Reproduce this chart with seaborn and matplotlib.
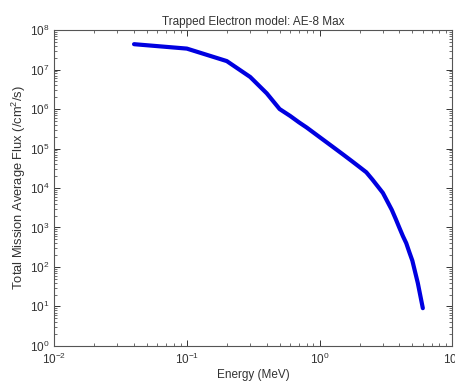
import numpy as np
import pandas as pd
import seaborn as sns
import matplotlib
matplotlib.use('Agg')
import matplotlib.pyplot as plt
from matplotlib.ticker import LogLocator, NullFormatter

# energy grid (MeV) and flux
energy = [0.04, 0.1, 0.2, 0.3, 0.4, 0.5, 0.6, 0.7, 0.8, 1.0, 1.25, 1.5, 1.75,
          2.0, 2.25, 2.5, 2.75, 3.0, 3.25, 3.5, 3.75, 4.0, 4.25, 4.5, 4.75,
          5.0, 5.5, 6.0]
flux = [4.4e7, 3.4e7, 1.64e7, 6.5e6, 2.5e6, 1.0e6, 6.7e5, 4.6e5, 3.4e5, 1.95e5,
        1.12e5, 7.1e4, 4.8e4, 3.4e4, 2.5e4, 1.64e4, 1.09e4, 7.5e3, 4.5e3, 2.8e3,
        1.64e3, 9.7e2, 6.0e2, 4.0e2, 2.35e2, 1.45e2, 3.9e1, 9.0]

df = pd.DataFrame({'Energy': energy, 'Flux': flux})

sns.set_style('ticks')
plt.rcParams['font.family'] = ['Liberation Sans', 'DejaVu Sans']
plt.rcParams['font.size'] = 8.5
plt.rcParams['mathtext.default'] = 'regular'
plt.rcParams['xtick.direction'] = 'in'
plt.rcParams['ytick.direction'] = 'in'

fig = plt.figure(figsize=(4.55, 3.86), dpi=100)
ax = fig.add_axes([0.119, 0.104, 0.875, 0.818])

sns.lineplot(data=df, x='Energy', y='Flux', color='#0000e0', linewidth=3.0, ax=ax)

ax.set_xscale('log')
ax.set_yscale('log')
ax.set_xlim(1e-2, 1e1)
ax.set_ylim(1e0, 1e8)

ax.xaxis.set_major_locator(LogLocator(base=10, numticks=10))
ax.yaxis.set_major_locator(LogLocator(base=10, numticks=10))
ax.xaxis.set_minor_locator(LogLocator(base=10, subs=np.arange(2, 10), numticks=20))
ax.yaxis.set_minor_locator(LogLocator(base=10, subs=np.arange(2, 10), numticks=20))
ax.xaxis.set_minor_formatter(NullFormatter())
ax.yaxis.set_minor_formatter(NullFormatter())

ax.tick_params(which='both', top=True, right=True, colors='#333333', labelcolor='#333333')
ax.tick_params(which='major', length=4, width=0.7, labelsize=8.5)
ax.tick_params(which='minor', length=2, width=0.5)
ax.tick_params(axis='x', pad=4)
for s in ax.spines.values():
    s.set_color('#555555')
    s.set_linewidth(0.8)

ax.set_title('Trapped Electron model: AE-8 Max', fontsize=8.5, color='#333333', pad=4)
ax.set_xlabel('Energy (MeV)', fontsize=8.5, color='#333333', labelpad=2)
ax.set_ylabel('Total Mission Average Flux (/cm$^2$/s)', fontsize=9.3, color='#333333', labelpad=1)

fig.savefig('out.png', dpi=100)
